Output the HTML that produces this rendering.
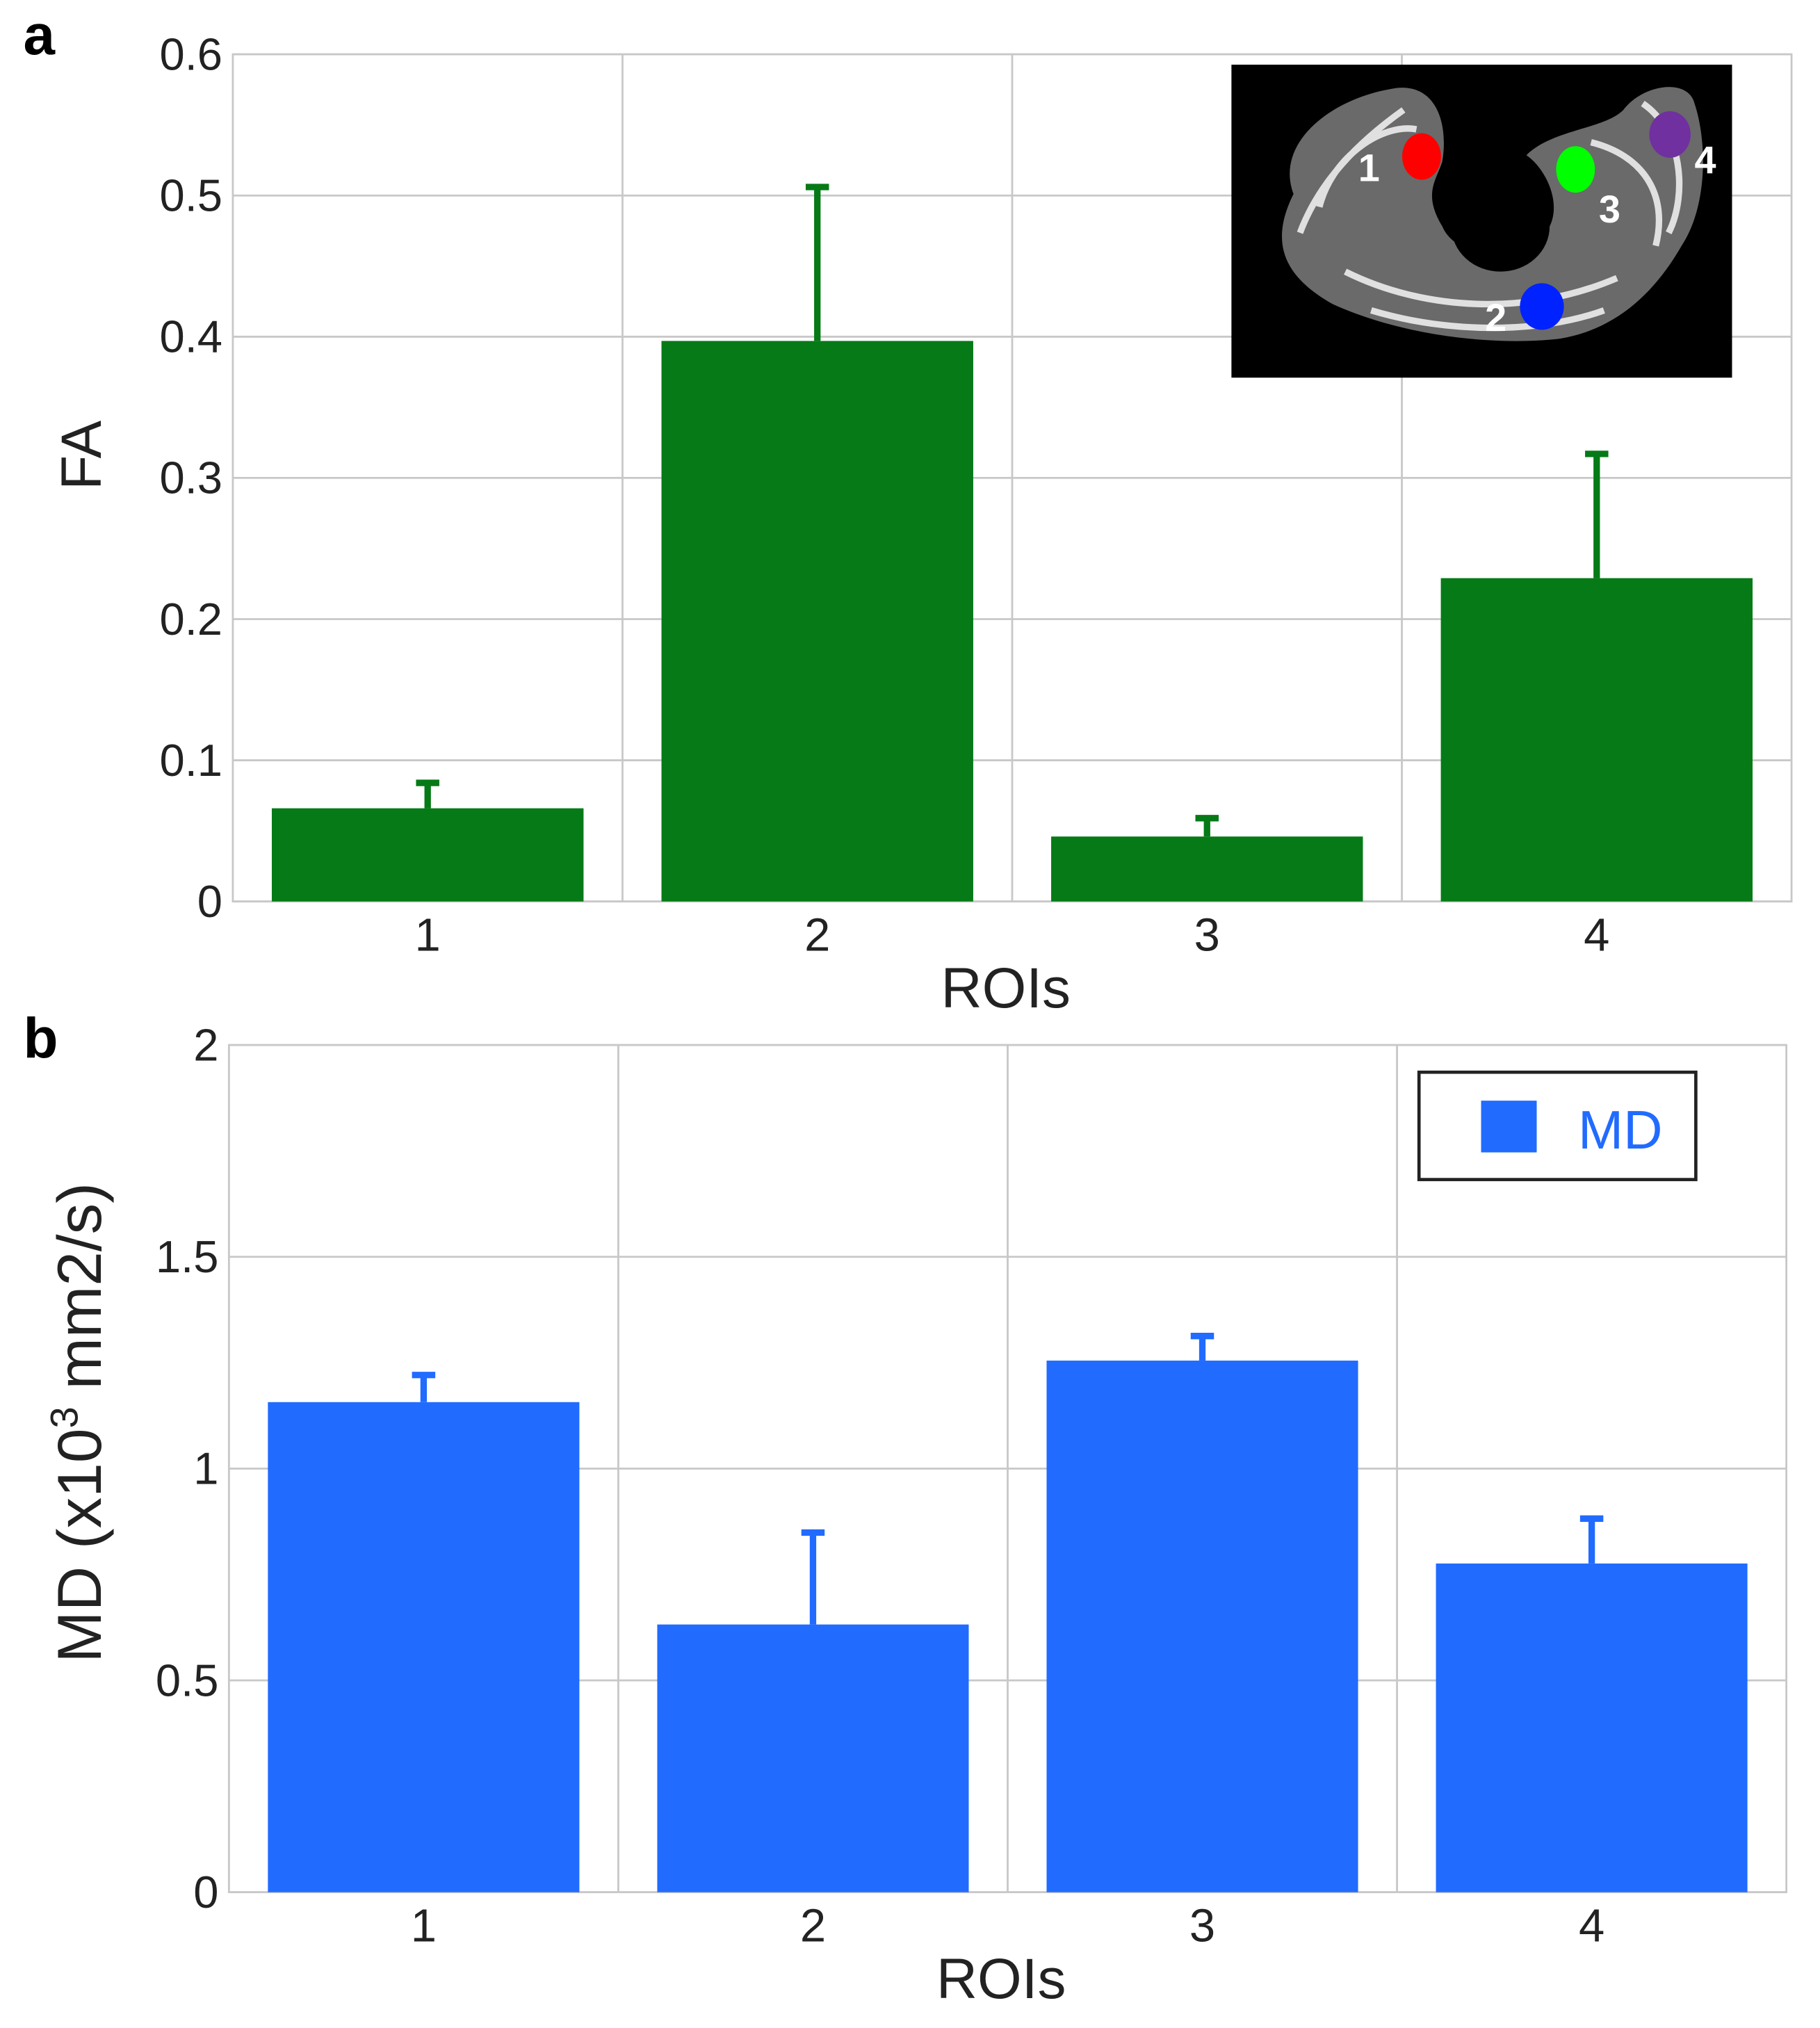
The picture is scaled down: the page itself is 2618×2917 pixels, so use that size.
<!DOCTYPE html>
<html><head><meta charset="utf-8"><style>
html,body{margin:0;padding:0;background:#fff}
svg{display:block}
text{font-family:"Liberation Sans",sans-serif}
</style></head><body>
<svg id="chart" width="2618" height="2917" viewBox="0 0 1407 1568" preserveAspectRatio="none" xmlns="http://www.w3.org/2000/svg">
<text x="18" y="42" font-size="44" font-weight="bold">a</text>
<text x="18" y="818" font-size="44" font-weight="bold">b</text>
<g id="ga"></g>
<g id="gb"></g>
<g>
<rect x="952" y="50" width="387" height="242" fill="#000"/>
<path d="M1000,150 C985,110 1030,75 1080,68 C1110,65 1120,95 1115,125 C1110,140 1100,150 1115,175 C1125,200 1175,205 1195,180 C1210,160 1195,130 1180,120 C1200,100 1240,100 1255,85 C1270,65 1305,60 1310,80 C1320,110 1320,160 1300,190 C1280,225 1250,255 1205,262 C1150,268 1080,258 1030,235 C995,215 980,190 1000,150 Z" fill="#6a6a6a"/>
<path d="M1020,160 C1030,120 1070,95 1095,100 M1230,110 C1270,120 1290,150 1280,190 M1040,210 C1100,240 1180,245 1250,215 M1005,180 C1020,140 1050,110 1085,85 M1270,80 C1300,100 1305,150 1290,180 M1060,240 C1120,258 1190,258 1240,240" stroke="#e0e0e0" stroke-width="5" fill="none"/>
<ellipse cx="1160" cy="175" rx="38" ry="35" fill="#000"/>
<ellipse cx="1099" cy="121" rx="15" ry="18" fill="#f00"/>
<ellipse cx="1218" cy="131" rx="15" ry="18" fill="#0f0"/>
<ellipse cx="1291" cy="104" rx="16" ry="18" fill="#7030a0"/>
<ellipse cx="1192" cy="237" rx="17" ry="18" fill="#0022ff"/>
<g fill="#fff" font-size="30" font-weight="bold">
<text x="1050" y="140">1</text><text x="1236" y="172">3</text><text x="1310" y="134">4</text><text x="1148" y="256">2</text></g>
</g>
<g>
<rect x="1097" y="829" width="214" height="83" fill="#fff" stroke="#222" stroke-width="2.5"/>
<rect x="1145" y="851" width="43" height="40" fill="#216bff"/>
<text x="1220" y="888" font-size="42" fill="#216bff">MD</text>
</g>
</svg>
<script>
const categories = ["1","2","3","4"];
const faValues = [0.066, 0.397, 0.046, 0.229];
const faErrors = [0.018, 0.109, 0.013, 0.088];
const faTicks = ["0","0.1","0.2","0.3","0.4","0.5","0.6"];
const mdValues = [1.157, 0.632, 1.255, 0.776];
const mdErrors = [0.064, 0.217, 0.058, 0.106];
const mdTicks = ["0","0.5","1","1.5","2"];
const NS="http://www.w3.org/2000/svg";
function mk(p,t,a){const e=document.createElementNS(NS,t);for(const k in a)e.setAttribute(k,a[k]);p.appendChild(e);return e;}
function draw(g,o){
  const {x0,x1,y0,y1,max,step,ticks,vals,errs,color,prefix}=o;
  const y=v=>y1-(v/max)*(y1-y0);
  const bw=(x1-x0)/categories.length;
  const x=i=>x0+bw*i;
  ticks.forEach((t,i)=>{
    const v=i*step, yy=y(v);
    const l=mk(g,'line',{x1:x0,x2:x1,y1:yy,y2:yy,stroke:'#c8c8c8','stroke-width':1.5});
    
    
    const tx=mk(g,'text',{x:x0-8,y:yy+12,'font-size':35,'text-anchor':'end',fill:'#222'});
    tx.textContent=t;
    
    
  });
  for(let i=1;i<categories.length;i++){
    const l=mk(g,'line',{x1:x(i),x2:x(i),y1:y0,y2:y1,stroke:'#c8c8c8','stroke-width':1.5});
    
    
  }
  const fr=mk(g,'rect',{x:x0,y:y0,width:x1-x0,height:y1-y0,fill:'none',stroke:'#c8c8c8','stroke-width':1.5});
  
  
  categories.forEach((c,i)=>{
    const bx=x(i)+bw*0.1, w=bw*0.8, cx=x(i)+bw/2;
    const e1=mk(g,'line',{x1:cx,x2:cx,y1:y(vals[i]),y2:y(vals[i]+errs[i]),stroke:color,'stroke-width':5});
    
    
    const e2=mk(g,'line',{x1:cx-9,x2:cx+9,y1:y(vals[i]+errs[i]),y2:y(vals[i]+errs[i]),stroke:color,'stroke-width':5});
    
    
    const r=mk(g,'rect',{x:bx,y:y(vals[i]),width:w,height:y(0)-y(vals[i]),fill:color});
    
    
    const t=mk(g,'text',{x:cx,y:y1+38,'font-size':36,'text-anchor':'middle',fill:'#222'});
    t.textContent=c;
    
    
  });
  const xt=mk(g,'text',{x:(x0+x1)/2-5,y:y1+82,'font-size':44,'text-anchor':'middle',fill:'#222'});
  xt.textContent='ROIs';
  
  
  return y;
}
draw(document.getElementById('ga'),{x0:180,x1:1385,y0:42,y1:697,max:0.6,step:0.1,ticks:faTicks,vals:faValues,errs:faErrors,color:'#067a17',prefix:'fa'});
draw(document.getElementById('gb'),{x0:177,x1:1381,y0:808,y1:1463,max:2,step:0.5,ticks:mdTicks,vals:mdValues,errs:mdErrors,color:'#216bff',prefix:'md'});
const ga=document.getElementById('ga');
const ya=mk(ga,'text',{x:0,y:0,'font-size':44,'text-anchor':'middle',fill:'#222',transform:'translate(78,352) rotate(-90)'});
ya.textContent='FA';


const gb=document.getElementById('gb');
const yb=mk(gb,'text',{x:0,y:0,'font-size':48,'text-anchor':'middle',fill:'#222',transform:'translate(78,1100) rotate(-90)'});
yb.innerHTML='MD (x10<tspan dy="-18" font-size="30">3</tspan><tspan dy="18"> mm2/s)</tspan>';


</script>
</body></html>
